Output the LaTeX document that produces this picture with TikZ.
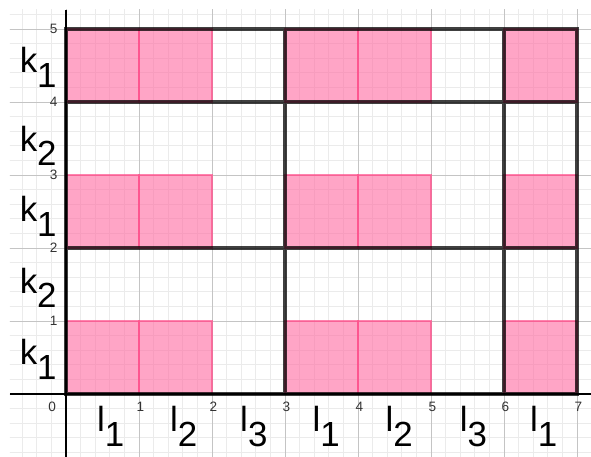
\documentclass[tikz,border=0pt]{standalone}
\usepackage{fontspec}
\setmainfont{Liberation Sans}
\usepackage{tikz}
\definecolor{gridminor}{HTML}{EBEBEB}
\definecolor{gridmajor}{HTML}{C4C4C4}
\definecolor{cellpink} {HTML}{FF69A0}
\definecolor{celledge} {HTML}{FF4F8B}
\definecolor{ticktext} {HTML}{333333}
\newcommand{\lowsub}[1]{\raisebox{-0.41em}{#1}}

\begin{document}
\begin{tikzpicture}[
  cell/.style={fill=cellpink,fill opacity=0.6,draw=celledge,
               draw opacity=0.7,line width=0.45pt},
  frame/.style={draw=black,draw opacity=0.75,line width=1.25pt},
  axis/.style={draw=black,line width=0.5pt},
  tick/.style={font=\fontsize{5.3}{6}\selectfont,text=ticktext,inner sep=0pt},
  lab/.style={font=\fontsize{13.6}{16}\selectfont,inner sep=0pt,anchor=base west},
  x=1cm, y=1cm
]
\useasboundingbox (-0.904,-0.863) rectangle (7.192,5.397);

% --- grid ---
\begin{scope}
  \clip (-0.767,-0.863) rectangle (7.192,5.26);
  \draw[gridminor,line width=0.35pt] (-1,-1) grid[step=0.2] (7.4,5.4);
  \draw[gridmajor,line width=0.35pt] (-1,-1) grid[step=1] (7.4,5.4);
\end{scope}

% --- pink cells ---
\foreach \x in {0,1,3,4,6}
  \foreach \y in {0,2,4}
    \draw[cell] (\x,\y) rectangle ++(1,1);

% --- black blocks (one path) ---
\draw[frame] \foreach \x/\w in {0/3,3/3,6/1} {
               \foreach \y/\h in {0/2,2/2,4/1} {(\x,\y) rectangle ++(\w,\h)}};

% --- axes ---
\coordinate (xl) at (-0.767,0);
\coordinate (xr) at (7.192,0);
\coordinate (yt) at (0,5.26);
\coordinate (yb) at (0,-0.863);
\draw[axis] (xl) -- (xr);
\draw[axis] (yb) -- (yt);

% --- tick numbers ---
\node[tick] (x0) at (-0.19,-0.18) {0};
\foreach \i in {1,...,7}
  \node[tick] (x\i) at (\i+0.02,-0.17) {\i};
\foreach \j in {1,...,5}
  \node[tick,anchor=east] (y\j) at (-0.11,\j) {\j};

% --- row labels ---
\node[lab] (ka) at (-0.64,0.40) {k\lowsub{1}};
\node[lab] (kb) at (-0.64,1.38) {k\lowsub{2}};
\node[lab] (kc) at (-0.64,2.36) {k\lowsub{1}};
\node[lab] (kd) at (-0.64,3.32) {k\lowsub{2}};
\node[lab] (ke) at (-0.64,4.40) {k\lowsub{1}};

% --- column labels ---
\node[lab] (la) at (0.42,-0.52) {l\lowsub{1}};
\node[lab] (lb) at (1.42,-0.52) {l\lowsub{2}};
\node[lab] (lc) at (2.38,-0.52) {l\lowsub{3}};
\node[lab] (ld) at (3.37,-0.52) {l\lowsub{1}};
\node[lab] (le) at (4.37,-0.52) {l\lowsub{2}};
\node[lab] (lf) at (5.39,-0.52) {l\lowsub{3}};
\node[lab] (lg) at (6.35,-0.52) {l\lowsub{1}};
\end{tikzpicture}
\end{document}
